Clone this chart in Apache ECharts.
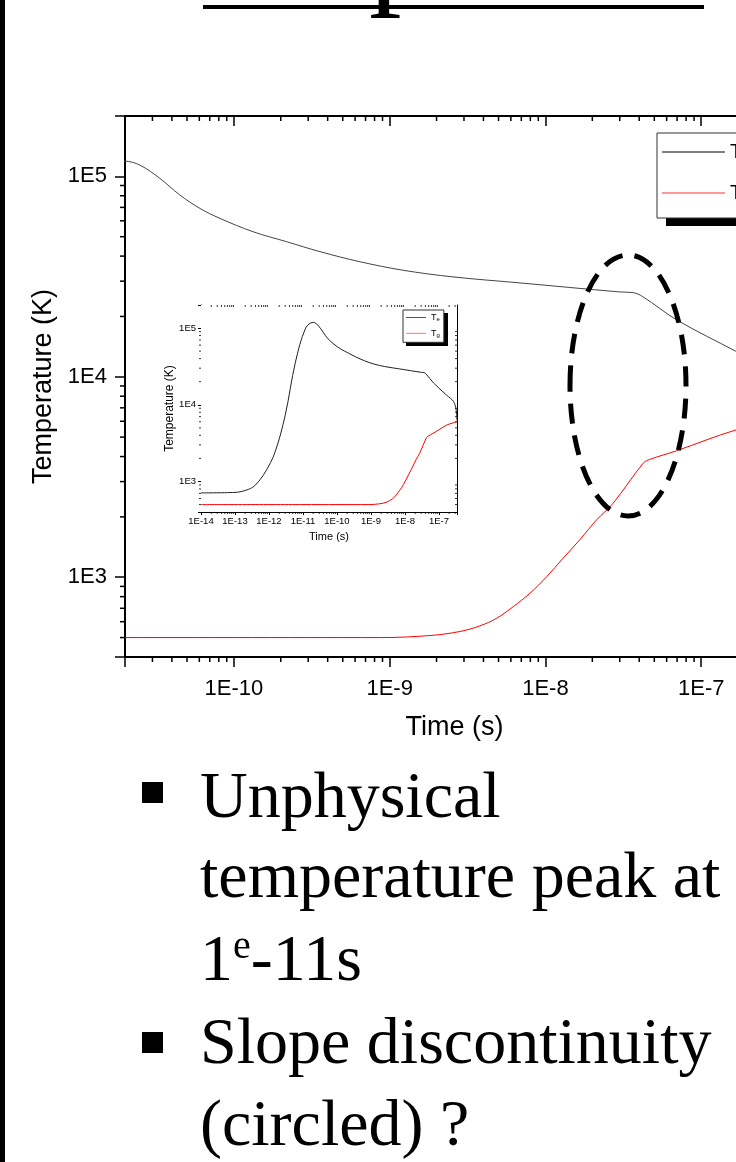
<!DOCTYPE html>
<html>
<head>
<meta charset="utf-8">
<script src="https://cdn.jsdelivr.net/npm/echarts@6/dist/echarts.min.js"></script>
<style>
  html, body { margin: 0; padding: 0; background: #fff; }
  #chart { width: 736px; height: 1162px; }
</style>
</head>
<body>
<div id="chart"></div>
<script>
// electron temperature Te (K) against time (s)
const teTime = [1e-14, 1e-13, 2.5e-13, 4e-13, 7.8e-13, 1.5e-12, 3e-12, 6e-12, 1.2e-11, 2e-11,
  2.49e-11, 3.35e-11, 4.5e-11, 6.05e-11, 8.14e-11, 1.33e-10, 2.18e-10, 3.57e-10, 6.44e-10, 1.22e-9,
  2.55e-9, 6.86e-9, 3e-8, 3.65e-8, 4.22e-8, 6.98e-8, 1.67e-7, 2.7e-7, 3.2e-7, 3.4e-7];
const teValue = [710, 720, 790, 900, 1330, 2400, 7300, 36000, 100000, 119000,
  113800, 97700, 80700, 69200, 61700, 52900, 47200, 42100, 37500, 34000,
  31500, 29400, 26500, 26300, 25100, 19200, 13400, 11000, 8600, 6300];

// gas temperature Tg
const tgTime = [1e-14, 1e-11, 1e-10, 8.7e-10, 1.82e-9, 2.82e-9, 3.8e-9, 4.86e-9, 6.21e-9, 7.96e-9,
  1.02e-8, 1.3e-8, 1.66e-8, 2.13e-8, 2.72e-8, 4.25e-8, 4.67e-8, 6.92e-8, 1.67e-7, 2.6e-7, 3.4e-7];
const tgValue = [500, 500, 500, 500, 512, 536, 572, 624, 713, 832,
  1007, 1245, 1536, 1933, 2339, 3710, 3870, 4270, 5430, 5800, 6000];

// tick labels
const mainXLabels = ['1E-10', '1E-9', '1E-8', '1E-7'];
const insetXLabels = ['1E-14', '1E-13', '1E-12', '1E-11', '1E-10', '1E-9', '1E-8', '1E-7'];
const yLabels = ['1E3', '1E4', '1E5'];

const bullets = ['Unphysical', 'temperature peak at', '{a|1}{s|e}{a|-11s}', 'Slope discontinuity', '(circled) ?'];

const FONT = '"Liberation Sans", Arial, sans-serif';
const SERIF = '"Liberation Serif", "Times New Roman", serif';

const pairs = (t, v) => t.map((x, i) => [x, v[i]]);

function fmt(list) {
  return function (v) {
    const e = Math.log10(v);
    const s = '1E' + Math.round(e);
    return Math.abs(e - Math.round(e)) < 1e-6 && list.indexOf(s) >= 0 ? s : '';
  };
}

function minorValues(lo, hi) {
  const out = [];
  for (let e = Math.floor(Math.log10(lo)); e <= Math.ceil(Math.log10(hi)); e++) {
    for (let k = 2; k <= 9; k++) {
      const v = k * Math.pow(10, e);
      if (v > lo * 1.0001 && v < hi * 0.9999) out.push(v);
    }
  }
  return out;
}

const chart = echarts.init(document.getElementById('chart'));

const axisLine = (w) => ({ onZero: false, lineStyle: { color: '#000', width: w } });
const tick = (inside, len, w) => ({ inside: inside, length: len, lineStyle: { color: '#000', width: w } });

const legendRich = (big, small, lh) => ({
  t: { fontSize: big, fontFamily: FONT, color: '#000', lineHeight: lh },
  s: { fontSize: small, fontFamily: FONT, color: '#000', lineHeight: lh, verticalAlign: 'bottom' }
});

const option = {
  animation: false,
  backgroundColor: '#fff',
  grid: [
    { left: 125, top: 116, width: 659, height: 541, outerBoundsMode: 'none', containLabel: false },
    {
      left: 201, top: 305, width: 256, height: 207, outerBoundsMode: 'none', containLabel: false,
      show: true, backgroundColor: '#fff', borderWidth: 0, z: 3
    }
  ],
  legend: [
    {
      left: 657, top: 133, orient: 'vertical', selectedMode: false, z: 8,
      data: ['Te', 'Tg'], icon: 'rect',
      itemWidth: 63, itemHeight: 1.5, itemGap: 21,
      padding: [9, 10, 15, 5],
      backgroundColor: '#fff', borderColor: '#333', borderWidth: 1,
      formatter: (n) => '{t|T}{s|' + n.slice(1) + '}',
      textStyle: { rich: legendRich(20, 13, 20) }
    },
    {
      left: 403, top: 310, orient: 'vertical', selectedMode: false, z: 8,
      data: ['Te', 'Tg'], icon: 'rect',
      itemWidth: 20, itemHeight: 1, itemGap: 6.3,
      padding: [3, 4, 4, 3],
      backgroundColor: '#fff', borderColor: '#333', borderWidth: 1,
      formatter: (n) => '{t|T}{s|' + n.slice(1) + '}',
      textStyle: { rich: legendRich(9, 6, 10) }
    }
  ],
  xAxis: [
    {
      type: 'log', gridIndex: 0, min: 2e-11, max: 3.4e-7, position: 'bottom',
      name: 'Time (s)', nameLocation: 'middle', nameGap: 57,
      nameTextStyle: { fontSize: 27, color: '#000', fontFamily: FONT },
      axisLine: axisLine(2), axisTick: tick(false, 10, 1.5),
      axisLabel: { margin: 21, fontSize: 22, color: '#000', fontFamily: FONT, formatter: fmt(mainXLabels) },
      splitLine: { show: false }
    },
    {
      type: 'log', gridIndex: 0, min: 2e-11, max: 3.4e-7, position: 'top',
      axisLine: axisLine(2), axisTick: tick(true, 10, 1.5),
      axisLabel: { show: false }, splitLine: { show: false }
    },
    {
      type: 'log', gridIndex: 1, min: 1e-14, max: 3.4e-7, position: 'bottom',
      name: 'Time (s)', nameLocation: 'middle', nameGap: 19,
      nameTextStyle: { fontSize: 11, color: '#000', fontFamily: FONT },
      axisLine: axisLine(1), axisTick: tick(false, 3, 1),
      axisLabel: { margin: 4, fontSize: 9.5, color: '#000', fontFamily: FONT, formatter: fmt(insetXLabels) },
      splitLine: { show: false }
    },
    {
      type: 'log', gridIndex: 1, min: 1e-14, max: 3.4e-7, position: 'top',
      axisLine: axisLine(1), axisTick: tick(true, 3, 1),
      axisLabel: { show: false }, splitLine: { show: false }
    }
  ],
  yAxis: [
    {
      type: 'log', gridIndex: 0, min: 400, max: 2e5, position: 'left',
      name: 'Temperature (K)', nameLocation: 'middle', nameGap: 66,
      nameTextStyle: { fontSize: 27, color: '#000', fontFamily: FONT },
      axisLine: axisLine(2), axisTick: tick(false, 10, 1.5),
      axisLabel: { margin: 18, fontSize: 22, color: '#000', fontFamily: FONT, formatter: fmt(yLabels) },
      splitLine: { show: false }
    },
    {
      type: 'log', gridIndex: 1, min: 400, max: 2e5, position: 'left',
      name: 'Temperature (K)', nameLocation: 'middle', nameGap: 17,
      nameTextStyle: { fontSize: 12, color: '#000', fontFamily: FONT },
      axisLine: axisLine(1), axisTick: tick(false, 3, 1),
      axisLabel: { margin: 5, fontSize: 9.5, color: '#000', fontFamily: FONT, formatter: fmt(yLabels) },
      splitLine: { show: false }
    },
    {
      type: 'log', gridIndex: 1, min: 400, max: 2e5, position: 'right',
      axisLine: axisLine(1), axisTick: tick(true, 3, 1),
      axisLabel: { show: false }, splitLine: { show: false }
    }
  ],
  series: [
    {
      name: 'Te', type: 'line', xAxisIndex: 0, yAxisIndex: 0, data: pairs(teTime, teValue),
      symbol: 'none', smooth: 0.35, silent: true,
      lineStyle: { color: '#444', width: 1 }, itemStyle: { color: '#555' }
    },
    {
      name: 'Tg', type: 'line', xAxisIndex: 0, yAxisIndex: 0, data: pairs(tgTime, tgValue),
      symbol: 'none', smooth: 0.35, silent: true,
      lineStyle: { color: '#f00', width: 1 }, itemStyle: { color: '#f77' }
    },
    {
      name: 'Te', type: 'line', xAxisIndex: 2, yAxisIndex: 1, data: pairs(teTime, teValue),
      symbol: 'none', smooth: 0.35, silent: true, z: 4,
      lineStyle: { color: '#222', width: 1 }, itemStyle: { color: '#555' }
    },
    {
      name: 'Tg', type: 'line', xAxisIndex: 2, yAxisIndex: 1, data: pairs(tgTime, tgValue),
      symbol: 'none', smooth: 0.35, silent: true, z: 4,
      lineStyle: { color: '#f00', width: 1 }, itemStyle: { color: '#f77' }
    }
  ]
};

chart.setOption(option);

// slide decoration + minor ticks (placed through the axes)
const graphic = [];
const ln = (x1, y1, x2, y2, w) => ({
  type: 'line', silent: true, z: 10,
  shape: { x1: x1, y1: y1, x2: x2, y2: y2 },
  style: { stroke: '#000', lineWidth: w }
});

function addMinor(xi, yi, xr, yr, len, w, rightAxis) {
  const px = (v) => chart.convertToPixel({ xAxisIndex: xi }, v);
  const py = (v) => chart.convertToPixel({ yAxisIndex: yi }, v);
  const left = px(xr[0]), right = px(xr[1]);
  const bottom = py(yr[0]), top = py(yr[1]);
  minorValues(xr[0], xr[1]).forEach((v) => {
    const x = px(v);
    graphic.push(ln(x, bottom, x, bottom + len, w));
    graphic.push(ln(x, top, x, top + len, w));
  });
  minorValues(yr[0], yr[1]).forEach((v) => {
    const y = py(v);
    graphic.push(ln(left - len, y, left, y, w));
    if (rightAxis) graphic.push(ln(right - len, y, right, y, w));
  });
}
addMinor(0, 0, [2e-11, 3.4e-7], [400, 2e5], 5, 1.5, false);
addMinor(2, 1, [1e-14, 3.4e-7], [400, 2e5], 2, 0.8, true);

graphic.push(
  // legend drop shadows
  { type: 'rect', silent: true, z: 5, shape: { x: 666, y: 141, width: 120, height: 85 }, style: { fill: '#000' } },
  { type: 'rect', silent: true, z: 5, shape: { x: 406, y: 313, width: 42, height: 33 }, style: { fill: '#000' } },
  { type: 'rect', silent: true, shape: { x: 0, y: 0, width: 5, height: 1162 }, style: { fill: '#000' } },
  { type: 'rect', silent: true, shape: { x: 203, y: 5, width: 501, height: 4 }, style: { fill: '#000' } },
  {
    // descender of the cropped slide title
    type: 'text', silent: true, x: 369, y: -44,
    style: { text: 'p', fontSize: 130, fontFamily: SERIF, fill: '#000', verticalAlign: 'middle' }
  },
  {
    type: 'ellipse', silent: true, z: 20,
    shape: { cx: 628, cy: 385.5, rx: 58, ry: 130.5 },
    style: { fill: null, stroke: '#000', lineWidth: 5, lineDash: [20, 12] }
  },
  { type: 'rect', silent: true, shape: { x: 142, y: 782, width: 21, height: 21 }, style: { fill: '#000' } },
  { type: 'rect', silent: true, shape: { x: 142, y: 1032, width: 21, height: 21 }, style: { fill: '#000' } }
);

const lineY = [800, 880, 963, 1046, 1128];
bullets.forEach((txt, i) => {
  graphic.push({
    type: 'text', silent: true, x: 200, y: lineY[i],
    style: {
      text: txt, fontSize: 66, fontFamily: SERIF, fill: '#000', verticalAlign: 'middle',
      rich: {
        a: { fontSize: 66, fontFamily: SERIF, fill: '#000', lineHeight: 72 },
        s: { fontSize: 40, fontFamily: SERIF, fill: '#000', verticalAlign: 'top', lineHeight: 40 }
      }
    }
  });
});

chart.setOption({ graphic: graphic });
</script>
</body>
</html>
